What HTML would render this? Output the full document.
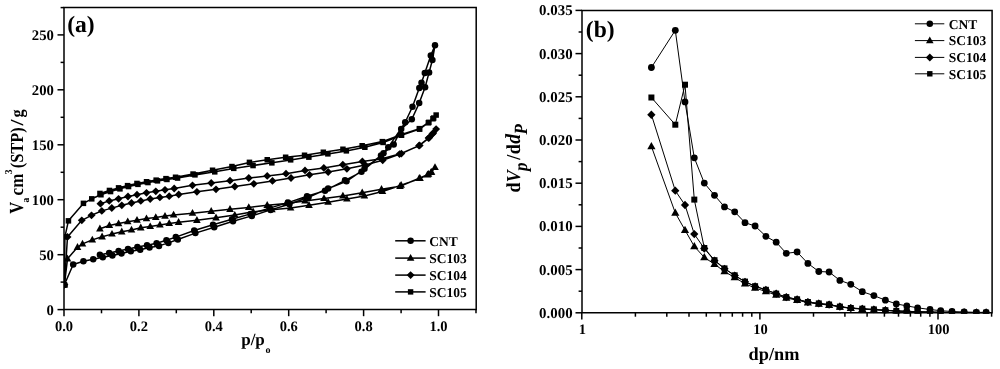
<!DOCTYPE html>
<html><head><meta charset="utf-8"><title>chart</title>
<style>
html,body{margin:0;padding:0;background:#fff;}
svg text, .t{font-family:"Liberation Serif",serif;font-weight:bold;fill:#000;text-rendering:geometricPrecision;}
body{width:1000px;height:369px;overflow:hidden;position:relative;font-family:"Liberation Serif",serif;}
</style></head><body>
<svg width="1000" height="369" viewBox="0 0 1000 369" style="position:absolute;left:0;top:0;will-change:transform">
<rect width="1000" height="369" fill="#fff"/>
<defs><clipPath id="ca"><rect x="64.0" y="7.6" width="412.2" height="302.0"/></clipPath>
<clipPath id="cb"><rect x="582.0" y="10.4" width="410.1" height="303.0"/></clipPath></defs>
<g clip-path="url(#ca)"><g transform="translate(0,0.3)">
<polyline fill="none" stroke="#000" stroke-width="1.5" stroke-linejoin="round" points="64.4,284.5 73.2,264.2 83.4,261.0 93.2,259.0 102.8,256.9 112.4,255.2 121.5,253.1 130.8,251.0 140.2,249.4 149.5,247.2 159.0,245.6 168.4,242.6 177.8,239.2 195.4,232.8 214.2,227.0 233.0,221.0 251.8,215.6 270.6,209.6 289.4,204.0 308.5,197.0 328.1,188.2 346.5,181.0 364.5,168.5 383.5,153.0 393.7,144.1 401.2,128.8 411.8,119.0 419.2,102.8 425.1,87.0 429.1,72.1 432.4,59.7 435.0,45.0 430.8,55.3 424.8,72.7 421.5,82.5 419.3,87.8 412.5,106.5 405.2,122.0 388.3,147.0 381.0,155.2 361.5,171.5 345.0,180.0 325.0,190.4 307.0,196.0 288.0,202.3 269.5,207.8 250.5,213.6 232.0,219.0 213.0,224.4 194.2,230.2 175.8,236.8 166.4,240.0 156.6,243.0 147.0,245.0 137.4,246.6 128.0,248.8 118.6,250.6 109.2,252.8 99.9,254.4"/><g fill="#000"><circle cx="64.4" cy="284.5" r="3.25"/><circle cx="73.2" cy="264.2" r="3.25"/><circle cx="83.4" cy="261.0" r="3.25"/><circle cx="93.2" cy="259.0" r="3.25"/><circle cx="102.8" cy="256.9" r="3.25"/><circle cx="112.4" cy="255.2" r="3.25"/><circle cx="121.5" cy="253.1" r="3.25"/><circle cx="130.8" cy="251.0" r="3.25"/><circle cx="140.2" cy="249.4" r="3.25"/><circle cx="149.5" cy="247.2" r="3.25"/><circle cx="159.0" cy="245.6" r="3.25"/><circle cx="168.4" cy="242.6" r="3.25"/><circle cx="177.8" cy="239.2" r="3.25"/><circle cx="195.4" cy="232.8" r="3.25"/><circle cx="214.2" cy="227.0" r="3.25"/><circle cx="233.0" cy="221.0" r="3.25"/><circle cx="251.8" cy="215.6" r="3.25"/><circle cx="270.6" cy="209.6" r="3.25"/><circle cx="289.4" cy="204.0" r="3.25"/><circle cx="308.5" cy="197.0" r="3.25"/><circle cx="328.1" cy="188.2" r="3.25"/><circle cx="346.5" cy="181.0" r="3.25"/><circle cx="364.5" cy="168.5" r="3.25"/><circle cx="383.5" cy="153.0" r="3.25"/><circle cx="393.7" cy="144.1" r="3.25"/><circle cx="401.2" cy="128.8" r="3.25"/><circle cx="411.8" cy="119.0" r="3.25"/><circle cx="419.2" cy="102.8" r="3.25"/><circle cx="425.1" cy="87.0" r="3.25"/><circle cx="429.1" cy="72.1" r="3.25"/><circle cx="432.4" cy="59.7" r="3.25"/><circle cx="435.0" cy="45.0" r="3.25"/><circle cx="430.8" cy="55.3" r="3.25"/><circle cx="424.8" cy="72.7" r="3.25"/><circle cx="421.5" cy="82.5" r="3.25"/><circle cx="419.3" cy="87.8" r="3.25"/><circle cx="412.5" cy="106.5" r="3.25"/><circle cx="405.2" cy="122.0" r="3.25"/><circle cx="388.3" cy="147.0" r="3.25"/><circle cx="381.0" cy="155.2" r="3.25"/><circle cx="361.5" cy="171.5" r="3.25"/><circle cx="345.0" cy="180.0" r="3.25"/><circle cx="325.0" cy="190.4" r="3.25"/><circle cx="307.0" cy="196.0" r="3.25"/><circle cx="288.0" cy="202.3" r="3.25"/><circle cx="269.5" cy="207.8" r="3.25"/><circle cx="250.5" cy="213.6" r="3.25"/><circle cx="232.0" cy="219.0" r="3.25"/><circle cx="213.0" cy="224.4" r="3.25"/><circle cx="194.2" cy="230.2" r="3.25"/><circle cx="175.8" cy="236.8" r="3.25"/><circle cx="166.4" cy="240.0" r="3.25"/><circle cx="156.6" cy="243.0" r="3.25"/><circle cx="147.0" cy="245.0" r="3.25"/><circle cx="137.4" cy="246.6" r="3.25"/><circle cx="128.0" cy="248.8" r="3.25"/><circle cx="118.6" cy="250.6" r="3.25"/><circle cx="109.2" cy="252.8" r="3.25"/><circle cx="99.9" cy="254.4" r="3.25"/></g>
<polyline fill="none" stroke="#000" stroke-width="1.5" stroke-linejoin="round" points="64.4,284.5 67.5,258.5 77.5,247.0 82.5,243.6 92.3,239.6 102.1,236.5 112.0,233.8 121.8,231.5 131.5,229.6 140.8,227.5 150.2,226.2 159.9,224.6 169.2,223.1 178.6,222.0 196.9,220.0 216.0,217.5 234.8,214.8 253.1,211.5 271.9,209.4 290.6,207.8 309.0,205.0 328.1,201.9 346.9,198.8 364.4,195.6 382.5,191.2 401.1,184.9 420.0,178.2 428.5,173.9 431.5,171.8 435.0,167.2 431.0,172.1 427.5,174.5 419.3,178.0 400.0,186.0 381.5,189.0 362.2,192.5 342.9,195.6 324.0,198.1 305.0,200.6 286.2,203.1 267.2,205.0 248.8,207.1 230.0,209.0 211.2,211.0 192.5,212.9 173.6,214.6 165.0,215.8 155.8,217.1 146.5,218.3 137.0,219.9 127.7,221.4 118.6,223.3 109.4,225.2 99.9,228.5"/><g fill="#000"><path d="M64.4 280.3L68.2 287.1L60.6 287.1Z"/><path d="M67.5 254.3L71.3 261.1L63.7 261.1Z"/><path d="M77.5 242.8L81.3 249.6L73.7 249.6Z"/><path d="M82.5 239.4L86.3 246.2L78.7 246.2Z"/><path d="M92.3 235.4L96.1 242.2L88.5 242.2Z"/><path d="M102.1 232.3L105.9 239.1L98.3 239.1Z"/><path d="M112.0 229.6L115.8 236.3L108.2 236.3Z"/><path d="M121.8 227.3L125.5 234.1L118.0 234.1Z"/><path d="M131.5 225.4L135.3 232.2L127.7 232.2Z"/><path d="M140.8 223.3L144.6 230.1L136.9 230.1Z"/><path d="M150.2 222.1L154.1 228.8L146.4 228.8Z"/><path d="M159.9 220.4L163.7 227.2L156.1 227.2Z"/><path d="M169.2 218.9L173.1 225.7L165.4 225.7Z"/><path d="M178.6 217.8L182.4 224.6L174.8 224.6Z"/><path d="M196.9 215.8L200.7 222.6L193.1 222.6Z"/><path d="M216.0 213.3L219.8 220.1L212.2 220.1Z"/><path d="M234.8 210.6L238.6 217.3L230.9 217.3Z"/><path d="M253.1 207.3L256.9 214.1L249.3 214.1Z"/><path d="M271.9 205.2L275.7 212.0L268.1 212.0Z"/><path d="M290.6 203.6L294.4 210.3L286.8 210.3Z"/><path d="M309.0 200.8L312.8 207.6L305.2 207.6Z"/><path d="M328.1 197.7L331.9 204.5L324.3 204.5Z"/><path d="M346.9 194.6L350.7 201.3L343.1 201.3Z"/><path d="M364.4 191.4L368.2 198.2L360.6 198.2Z"/><path d="M382.5 187.1L386.3 193.8L378.7 193.8Z"/><path d="M401.1 180.7L404.9 187.5L397.3 187.5Z"/><path d="M420.0 174.0L423.8 180.8L416.2 180.8Z"/><path d="M428.5 169.7L432.3 176.5L424.7 176.5Z"/><path d="M431.5 167.6L435.3 174.4L427.7 174.4Z"/><path d="M435.0 163.0L438.8 169.8L431.2 169.8Z"/><path d="M431.0 167.9L434.8 174.7L427.2 174.7Z"/><path d="M427.5 170.3L431.3 177.1L423.7 177.1Z"/><path d="M419.3 173.8L423.1 180.6L415.5 180.6Z"/><path d="M400.0 181.8L403.8 188.6L396.2 188.6Z"/><path d="M381.5 184.8L385.3 191.6L377.7 191.6Z"/><path d="M362.2 188.3L366.1 195.1L358.4 195.1Z"/><path d="M342.9 191.4L346.7 198.2L339.1 198.2Z"/><path d="M324.0 193.9L327.8 200.7L320.2 200.7Z"/><path d="M305.0 196.4L308.8 203.2L301.2 203.2Z"/><path d="M286.2 198.9L290.1 205.7L282.4 205.7Z"/><path d="M267.2 200.8L271.1 207.6L263.4 207.6Z"/><path d="M248.8 202.9L252.6 209.7L244.9 209.7Z"/><path d="M230.0 204.8L233.8 211.6L226.2 211.6Z"/><path d="M211.2 206.8L215.1 213.6L207.4 213.6Z"/><path d="M192.5 208.7L196.3 215.5L188.7 215.5Z"/><path d="M173.6 210.4L177.4 217.2L169.8 217.2Z"/><path d="M165.0 211.6L168.8 218.4L161.2 218.4Z"/><path d="M155.8 212.9L159.6 219.7L151.9 219.7Z"/><path d="M146.5 214.1L150.3 220.9L142.7 220.9Z"/><path d="M137.0 215.7L140.8 222.5L133.2 222.5Z"/><path d="M127.7 217.2L131.5 224.0L123.9 224.0Z"/><path d="M118.6 219.1L122.4 225.9L114.8 225.9Z"/><path d="M109.4 221.0L113.2 227.8L105.6 227.8Z"/><path d="M99.9 224.3L103.7 231.1L96.1 231.1Z"/></g>
<polyline fill="none" stroke="#000" stroke-width="1.5" stroke-linejoin="round" points="64.4,284.5 67.5,236.6 81.8,220.0 91.5,215.0 101.8,210.6 111.8,207.8 121.8,205.0 131.5,202.8 140.8,200.6 150.2,198.8 159.9,197.1 169.2,195.9 178.7,194.2 196.9,191.5 216.0,189.0 234.8,186.2 253.8,183.5 272.5,180.6 291.0,177.7 309.5,174.5 328.2,171.7 346.9,168.5 365.1,164.7 382.7,160.0 401.4,153.3 419.6,145.1 429.4,137.3 433.3,132.8 436.1,128.8 432.4,133.6 428.5,137.8 419.0,145.4 399.5,153.8 381.9,158.4 362.4,161.1 342.8,164.4 323.8,167.6 305.0,170.1 286.0,173.4 267.2,175.6 248.8,177.8 230.0,180.4 211.2,182.8 192.5,185.0 174.2,188.2 165.0,189.5 155.8,191.0 146.5,192.5 137.0,194.4 128.0,196.2 118.6,198.5 109.2,200.6 100.5,203.4"/><g fill="#000"><path d="M64.4 280.6L68.4 284.5L64.4 288.4L60.5 284.5Z"/><path d="M67.5 232.7L71.5 236.6L67.5 240.5L63.5 236.6Z"/><path d="M81.8 216.1L85.7 220.0L81.8 223.9L77.8 220.0Z"/><path d="M91.5 211.1L95.5 215.0L91.5 218.9L87.5 215.0Z"/><path d="M101.8 206.7L105.7 210.6L101.8 214.5L97.8 210.6Z"/><path d="M111.8 203.8L115.7 207.8L111.8 211.7L107.8 207.8Z"/><path d="M121.8 201.1L125.7 205.0L121.8 208.9L117.8 205.0Z"/><path d="M131.5 198.8L135.4 202.8L131.5 206.7L127.5 202.8Z"/><path d="M140.8 196.7L144.7 200.6L140.8 204.5L136.8 200.6Z"/><path d="M150.2 194.8L154.2 198.8L150.2 202.7L146.3 198.8Z"/><path d="M159.9 193.2L163.8 197.1L159.9 201.0L156.0 197.1Z"/><path d="M169.2 192.0L173.2 195.9L169.2 199.8L165.3 195.9Z"/><path d="M178.7 190.2L182.6 194.2L178.7 198.1L174.8 194.2Z"/><path d="M196.9 187.6L200.8 191.5L196.9 195.4L193.0 191.5Z"/><path d="M216.0 185.1L219.9 189.0L216.0 192.9L212.1 189.0Z"/><path d="M234.8 182.3L238.7 186.2L234.8 190.2L230.8 186.2Z"/><path d="M253.8 179.6L257.7 183.5L253.8 187.4L249.8 183.5Z"/><path d="M272.5 176.7L276.4 180.6L272.5 184.5L268.6 180.6Z"/><path d="M291.0 173.8L294.9 177.7L291.0 181.6L287.1 177.7Z"/><path d="M309.5 170.6L313.4 174.5L309.5 178.4L305.6 174.5Z"/><path d="M328.2 167.8L332.1 171.7L328.2 175.6L324.2 171.7Z"/><path d="M346.9 164.6L350.8 168.5L346.9 172.4L342.9 168.5Z"/><path d="M365.1 160.8L369.1 164.7L365.1 168.6L361.2 164.7Z"/><path d="M382.7 156.1L386.6 160.0L382.7 163.9L378.8 160.0Z"/><path d="M401.4 149.4L405.3 153.3L401.4 157.2L397.4 153.3Z"/><path d="M419.6 141.2L423.6 145.1L419.6 149.0L415.7 145.1Z"/><path d="M429.4 133.4L433.3 137.3L429.4 141.2L425.4 137.3Z"/><path d="M433.3 128.9L437.2 132.8L433.3 136.8L429.4 132.8Z"/><path d="M436.1 124.9L440.1 128.8L436.1 132.8L432.2 128.8Z"/><path d="M432.4 129.7L436.3 133.6L432.4 137.5L428.4 133.6Z"/><path d="M428.5 133.9L432.4 137.8L428.5 141.8L424.6 137.8Z"/><path d="M419.0 141.5L422.9 145.4L419.0 149.3L415.1 145.4Z"/><path d="M399.5 149.9L403.4 153.8L399.5 157.8L395.6 153.8Z"/><path d="M381.9 154.5L385.8 158.4L381.9 162.3L377.9 158.4Z"/><path d="M362.4 157.2L366.3 161.1L362.4 165.0L358.4 161.1Z"/><path d="M342.8 160.5L346.8 164.4L342.8 168.3L338.9 164.4Z"/><path d="M323.8 163.7L327.8 167.6L323.8 171.5L319.9 167.6Z"/><path d="M305.0 166.2L308.9 170.1L305.0 174.0L301.1 170.1Z"/><path d="M286.0 169.5L289.9 173.4L286.0 177.3L282.1 173.4Z"/><path d="M267.2 171.7L271.2 175.6L267.2 179.5L263.3 175.6Z"/><path d="M248.8 173.8L252.7 177.8L248.8 181.7L244.8 177.8Z"/><path d="M230.0 176.5L233.9 180.4L230.0 184.3L226.1 180.4Z"/><path d="M211.2 178.8L215.2 182.8L211.2 186.7L207.3 182.8Z"/><path d="M192.5 181.1L196.4 185.0L192.5 188.9L188.6 185.0Z"/><path d="M174.2 184.3L178.2 188.2L174.2 192.2L170.3 188.2Z"/><path d="M165.0 185.6L168.9 189.5L165.0 193.4L161.1 189.5Z"/><path d="M155.8 187.1L159.7 191.0L155.8 194.9L151.8 191.0Z"/><path d="M146.5 188.6L150.4 192.5L146.5 196.4L142.6 192.5Z"/><path d="M137.0 190.5L140.9 194.4L137.0 198.3L133.1 194.4Z"/><path d="M128.0 192.3L131.9 196.2L128.0 200.2L124.0 196.2Z"/><path d="M118.6 194.6L122.5 198.5L118.6 202.4L114.6 198.5Z"/><path d="M109.2 196.7L113.2 200.6L109.2 204.5L105.3 200.6Z"/><path d="M100.5 199.5L104.5 203.4L100.5 207.3L96.5 203.4Z"/></g>
<polyline fill="none" stroke="#000" stroke-width="1.5" stroke-linejoin="round" points="64.4,284.5 64.9,236.5 68.4,220.5 83.4,203.1 91.8,198.5 100.9,194.4 110.5,191.2 119.9,188.5 128.6,186.2 138.0,184.1 148.0,182.2 157.4,180.6 167.0,179.2 177.5,177.8 195.0,174.6 214.8,171.5 233.8,168.1 253.1,165.2 271.9,162.5 290.6,159.6 308.9,156.8 327.9,153.6 346.3,150.6 364.8,146.9 383.2,142.2 401.5,135.0 419.6,128.8 428.8,122.1 433.7,117.8 436.1,114.8 433.0,118.4 428.3,122.4 419.3,128.3 401.0,134.3 382.3,141.3 362.2,145.4 343.0,149.0 323.4,151.9 304.5,155.0 285.6,156.9 267.2,159.4 249.4,162.1 231.9,166.2 212.5,170.0 193.1,173.8 175.6,176.9 166.0,178.3 156.2,179.8 146.6,181.4 137.0,183.2 127.6,185.3 118.6,187.6 109.4,190.2 100.0,193.2"/><g fill="#000"><rect x="61.7" y="281.8" width="5.5" height="5.5"/><rect x="62.2" y="233.8" width="5.5" height="5.5"/><rect x="65.7" y="217.8" width="5.5" height="5.5"/><rect x="80.7" y="200.3" width="5.5" height="5.5"/><rect x="89.0" y="195.8" width="5.5" height="5.5"/><rect x="98.2" y="191.7" width="5.5" height="5.5"/><rect x="107.8" y="188.5" width="5.5" height="5.5"/><rect x="117.2" y="185.8" width="5.5" height="5.5"/><rect x="125.8" y="183.5" width="5.5" height="5.5"/><rect x="135.2" y="181.3" width="5.5" height="5.5"/><rect x="145.2" y="179.5" width="5.5" height="5.5"/><rect x="154.7" y="177.8" width="5.5" height="5.5"/><rect x="164.2" y="176.4" width="5.5" height="5.5"/><rect x="174.8" y="175.0" width="5.5" height="5.5"/><rect x="192.2" y="171.8" width="5.5" height="5.5"/><rect x="212.0" y="168.8" width="5.5" height="5.5"/><rect x="231.0" y="165.3" width="5.5" height="5.5"/><rect x="250.3" y="162.5" width="5.5" height="5.5"/><rect x="269.1" y="159.8" width="5.5" height="5.5"/><rect x="287.9" y="156.8" width="5.5" height="5.5"/><rect x="306.1" y="154.1" width="5.5" height="5.5"/><rect x="325.1" y="150.8" width="5.5" height="5.5"/><rect x="343.6" y="147.8" width="5.5" height="5.5"/><rect x="362.1" y="144.2" width="5.5" height="5.5"/><rect x="380.4" y="139.4" width="5.5" height="5.5"/><rect x="398.8" y="132.2" width="5.5" height="5.5"/><rect x="416.9" y="126.1" width="5.5" height="5.5"/><rect x="426.1" y="119.3" width="5.5" height="5.5"/><rect x="430.9" y="115.0" width="5.5" height="5.5"/><rect x="433.4" y="112.0" width="5.5" height="5.5"/><rect x="430.2" y="115.7" width="5.5" height="5.5"/><rect x="425.6" y="119.7" width="5.5" height="5.5"/><rect x="416.6" y="125.6" width="5.5" height="5.5"/><rect x="398.2" y="131.6" width="5.5" height="5.5"/><rect x="379.6" y="138.6" width="5.5" height="5.5"/><rect x="359.4" y="142.7" width="5.5" height="5.5"/><rect x="340.2" y="146.2" width="5.5" height="5.5"/><rect x="320.6" y="149.2" width="5.5" height="5.5"/><rect x="301.8" y="152.2" width="5.5" height="5.5"/><rect x="282.9" y="154.2" width="5.5" height="5.5"/><rect x="264.5" y="156.7" width="5.5" height="5.5"/><rect x="246.7" y="159.3" width="5.5" height="5.5"/><rect x="229.2" y="163.5" width="5.5" height="5.5"/><rect x="209.8" y="167.2" width="5.5" height="5.5"/><rect x="190.3" y="171.0" width="5.5" height="5.5"/><rect x="172.8" y="174.2" width="5.5" height="5.5"/><rect x="163.2" y="175.6" width="5.5" height="5.5"/><rect x="153.4" y="177.1" width="5.5" height="5.5"/><rect x="143.8" y="178.7" width="5.5" height="5.5"/><rect x="134.2" y="180.4" width="5.5" height="5.5"/><rect x="124.8" y="182.6" width="5.5" height="5.5"/><rect x="115.8" y="184.8" width="5.5" height="5.5"/><rect x="106.7" y="187.4" width="5.5" height="5.5"/><rect x="97.2" y="190.4" width="5.5" height="5.5"/></g>
</g></g>
<g stroke="#000" stroke-width="1.5" fill="none" stroke-linecap="butt">
<path d="M64.0 7.6H476.2V309.6H64.0Z"/>
<path d="M64.0 309.6v6.6"/>
<path d="M101.5 309.6v3.7"/>
<path d="M138.9 309.6v6.6"/>
<path d="M176.3 309.6v3.7"/>
<path d="M213.8 309.6v6.6"/>
<path d="M251.2 309.6v3.7"/>
<path d="M288.7 309.6v6.6"/>
<path d="M326.1 309.6v3.7"/>
<path d="M363.6 309.6v6.6"/>
<path d="M401.1 309.6v3.7"/>
<path d="M438.5 309.6v6.6"/>
<path d="M476.0 309.6v3.7"/>
<path d="M64.0 309.6h-6.5"/>
<path d="M64.0 282.1h-3.4"/>
<path d="M64.0 254.7h-6.5"/>
<path d="M64.0 227.2h-3.4"/>
<path d="M64.0 199.7h-6.5"/>
<path d="M64.0 172.3h-3.4"/>
<path d="M64.0 144.8h-6.5"/>
<path d="M64.0 117.3h-3.4"/>
<path d="M64.0 89.8h-6.5"/>
<path d="M64.0 62.4h-3.4"/>
<path d="M64.0 34.9h-6.5"/>
<path d="M64.0 7.6h-3.4"/>
</g>
<g clip-path="url(#cb)">
<polyline fill="none" stroke="#000" stroke-width="1.0" stroke-linejoin="round" points="651.4,67.5 675.3,30.3 685.0,101.9 694.3,157.8 704.3,183.1 714.5,195.3 724.5,206.9 734.7,211.8 745.0,222.7 755.1,226.0 765.9,236.3 776.2,242.2 786.3,253.3 797.1,252.0 807.9,263.4 818.8,271.5 829.1,272.0 839.9,280.4 850.8,284.3 862.3,291.7 873.9,295.6 885.4,300.2 896.3,303.9 906.8,305.9 917.6,307.8 930.0,309.5 940.7,310.7 952.0,311.5 964.1,312.0 976.3,312.3 986.1,312.4"/><g fill="#000"><circle cx="651.4" cy="67.5" r="3.40"/><circle cx="675.3" cy="30.3" r="3.40"/><circle cx="685.0" cy="101.9" r="3.40"/><circle cx="694.3" cy="157.8" r="3.40"/><circle cx="704.3" cy="183.1" r="3.40"/><circle cx="714.5" cy="195.3" r="3.40"/><circle cx="724.5" cy="206.9" r="3.40"/><circle cx="734.7" cy="211.8" r="3.40"/><circle cx="745.0" cy="222.7" r="3.40"/><circle cx="755.1" cy="226.0" r="3.40"/><circle cx="765.9" cy="236.3" r="3.40"/><circle cx="776.2" cy="242.2" r="3.40"/><circle cx="786.3" cy="253.3" r="3.40"/><circle cx="797.1" cy="252.0" r="3.40"/><circle cx="807.9" cy="263.4" r="3.40"/><circle cx="818.8" cy="271.5" r="3.40"/><circle cx="829.1" cy="272.0" r="3.40"/><circle cx="839.9" cy="280.4" r="3.40"/><circle cx="850.8" cy="284.3" r="3.40"/><circle cx="862.3" cy="291.7" r="3.40"/><circle cx="873.9" cy="295.6" r="3.40"/><circle cx="885.4" cy="300.2" r="3.40"/><circle cx="896.3" cy="303.9" r="3.40"/><circle cx="906.8" cy="305.9" r="3.40"/><circle cx="917.6" cy="307.8" r="3.40"/><circle cx="930.0" cy="309.5" r="3.40"/><circle cx="940.7" cy="310.7" r="3.40"/><circle cx="952.0" cy="311.5" r="3.40"/><circle cx="964.1" cy="312.0" r="3.40"/><circle cx="976.3" cy="312.3" r="3.40"/><circle cx="986.1" cy="312.4" r="3.40"/></g>
<polyline fill="none" stroke="#000" stroke-width="1.0" stroke-linejoin="round" points="651.4,146.4 675.3,212.9 685.0,230.1 694.3,246.4 704.3,257.4 714.5,264.2 724.5,271.5 734.7,277.5 745.0,283.7 755.1,288.0 765.9,291.5 776.2,295.0 786.3,298.0 797.1,300.2 807.9,302.6 818.8,304.0 829.1,305.1 839.9,307.0 850.8,308.3 862.3,309.2 873.9,309.8 885.4,310.5 896.3,311.1 906.8,311.5 917.6,311.9 930.0,312.2 940.7,312.4 952.0,312.5 964.1,312.6 976.3,312.7 986.1,312.7"/><g fill="#000"><path d="M651.4 142.0L655.5 149.2L647.3 149.2Z"/><path d="M675.3 208.5L679.4 215.7L671.2 215.7Z"/><path d="M685.0 225.7L689.1 232.9L680.9 232.9Z"/><path d="M694.3 242.0L698.4 249.2L690.2 249.2Z"/><path d="M704.3 253.0L708.4 260.2L700.2 260.2Z"/><path d="M714.5 259.8L718.6 267.0L710.4 267.0Z"/><path d="M724.5 267.1L728.6 274.3L720.4 274.3Z"/><path d="M734.7 273.1L738.8 280.3L730.6 280.3Z"/><path d="M745.0 279.3L749.1 286.5L740.9 286.5Z"/><path d="M755.1 283.6L759.2 290.8L751.0 290.8Z"/><path d="M765.9 287.1L770.0 294.3L761.8 294.3Z"/><path d="M776.2 290.6L780.3 297.8L772.1 297.8Z"/><path d="M786.3 293.6L790.4 300.8L782.2 300.8Z"/><path d="M797.1 295.8L801.2 303.0L793.0 303.0Z"/><path d="M807.9 298.2L812.0 305.4L803.8 305.4Z"/><path d="M818.8 299.6L822.9 306.8L814.7 306.8Z"/><path d="M829.1 300.7L833.2 307.9L825.0 307.9Z"/><path d="M839.9 302.6L844.0 309.8L835.8 309.8Z"/><path d="M850.8 303.9L854.9 311.1L846.7 311.1Z"/><path d="M862.3 304.8L866.4 312.0L858.2 312.0Z"/><path d="M873.9 305.4L878.0 312.6L869.8 312.6Z"/><path d="M885.4 306.1L889.5 313.3L881.3 313.3Z"/><path d="M896.3 306.7L900.4 313.9L892.2 313.9Z"/><path d="M906.8 307.1L910.9 314.3L902.7 314.3Z"/><path d="M917.6 307.5L921.7 314.7L913.5 314.7Z"/><path d="M930.0 307.8L934.1 315.0L925.9 315.0Z"/><path d="M940.7 308.0L944.8 315.2L936.6 315.2Z"/><path d="M952.0 308.1L956.1 315.3L947.9 315.3Z"/><path d="M964.1 308.2L968.2 315.4L960.0 315.4Z"/><path d="M976.3 308.3L980.4 315.5L972.2 315.5Z"/><path d="M986.1 308.3L990.2 315.5L982.0 315.5Z"/></g>
<polyline fill="none" stroke="#000" stroke-width="1.0" stroke-linejoin="round" points="651.4,114.7 675.3,190.7 685.0,205.0 694.3,234.1 704.3,248.5 714.5,260.7 724.5,268.8 734.7,275.6 745.0,281.8 755.1,286.4 765.9,289.9 776.2,293.7 786.3,297.2 797.1,299.4 807.9,302.1 818.8,303.5 829.1,304.6 839.9,306.7 850.8,308.1 862.3,308.8 873.9,309.5 885.4,310.3 896.3,311.0 906.8,311.3 917.6,311.7 930.0,312.1 940.7,312.3 952.0,312.5 964.1,312.6 976.3,312.7 986.1,312.7"/><g fill="#000"><path d="M651.4 110.5L655.5 114.7L651.4 118.9L647.2 114.7Z"/><path d="M675.3 186.5L679.4 190.7L675.3 194.8L671.1 190.7Z"/><path d="M685.0 200.8L689.1 205.0L685.0 209.2L680.9 205.0Z"/><path d="M694.3 229.9L698.4 234.1L694.3 238.2L690.1 234.1Z"/><path d="M704.3 244.3L708.4 248.5L704.3 252.7L700.1 248.5Z"/><path d="M714.5 256.6L718.6 260.7L714.5 264.8L710.4 260.7Z"/><path d="M724.5 264.7L728.6 268.8L724.5 272.9L720.4 268.8Z"/><path d="M734.7 271.5L738.9 275.6L734.7 279.8L730.6 275.6Z"/><path d="M745.0 277.7L749.1 281.8L745.0 285.9L740.9 281.8Z"/><path d="M755.1 282.2L759.2 286.4L755.1 290.5L751.0 286.4Z"/><path d="M765.9 285.8L770.0 289.9L765.9 294.0L761.8 289.9Z"/><path d="M776.2 289.6L780.4 293.7L776.2 297.8L772.1 293.7Z"/><path d="M786.3 293.1L790.4 297.2L786.3 301.3L782.1 297.2Z"/><path d="M797.1 295.2L801.2 299.4L797.1 303.5L793.0 299.4Z"/><path d="M807.9 298.0L812.0 302.1L807.9 306.2L803.8 302.1Z"/><path d="M818.8 299.4L822.9 303.5L818.8 307.6L814.6 303.5Z"/><path d="M829.1 300.5L833.2 304.6L829.1 308.8L825.0 304.6Z"/><path d="M839.9 302.6L844.0 306.7L839.9 310.8L835.8 306.7Z"/><path d="M850.8 304.0L854.9 308.1L850.8 312.2L846.6 308.1Z"/><path d="M862.3 304.7L866.4 308.8L862.3 312.9L858.1 308.8Z"/><path d="M873.9 305.4L878.0 309.5L873.9 313.6L869.8 309.5Z"/><path d="M885.4 306.2L889.5 310.3L885.4 314.4L881.2 310.3Z"/><path d="M896.3 306.9L900.4 311.0L896.3 315.1L892.1 311.0Z"/><path d="M906.8 307.2L910.9 311.3L906.8 315.4L902.6 311.3Z"/><path d="M917.6 307.6L921.8 311.7L917.6 315.8L913.5 311.7Z"/><path d="M930.0 308.0L934.1 312.1L930.0 316.2L925.9 312.1Z"/><path d="M940.7 308.2L944.9 312.3L940.7 316.4L936.6 312.3Z"/><path d="M952.0 308.4L956.1 312.5L952.0 316.6L947.9 312.5Z"/><path d="M964.1 308.5L968.2 312.6L964.1 316.8L960.0 312.6Z"/><path d="M976.3 308.6L980.4 312.7L976.3 316.8L972.1 312.7Z"/><path d="M986.1 308.6L990.2 312.7L986.1 316.8L982.0 312.7Z"/></g>
<polyline fill="none" stroke="#000" stroke-width="1.0" stroke-linejoin="round" points="651.4,97.5 675.3,124.7 685.0,84.7 694.3,199.6 704.3,248.0 714.5,260.2 724.5,268.4 734.7,275.3 745.0,281.6 755.1,286.2 765.9,289.8 776.2,293.6 786.3,297.1 797.1,299.3 807.9,302.0 818.8,303.4 829.1,304.5 839.9,306.6 850.8,308.0 862.3,308.7 873.9,309.4 885.4,310.2 896.3,310.9 906.8,311.3 917.6,311.7 930.0,312.1 940.7,312.3 952.0,312.5 964.1,312.6 976.3,312.7 986.1,312.7"/><g fill="#000"><rect x="648.4" y="94.5" width="6.0" height="6.0"/><rect x="672.3" y="121.7" width="6.0" height="6.0"/><rect x="682.0" y="81.7" width="6.0" height="6.0"/><rect x="691.3" y="196.6" width="6.0" height="6.0"/><rect x="701.3" y="245.0" width="6.0" height="6.0"/><rect x="711.5" y="257.2" width="6.0" height="6.0"/><rect x="721.5" y="265.4" width="6.0" height="6.0"/><rect x="731.7" y="272.3" width="6.0" height="6.0"/><rect x="742.0" y="278.6" width="6.0" height="6.0"/><rect x="752.1" y="283.2" width="6.0" height="6.0"/><rect x="762.9" y="286.8" width="6.0" height="6.0"/><rect x="773.2" y="290.6" width="6.0" height="6.0"/><rect x="783.3" y="294.1" width="6.0" height="6.0"/><rect x="794.1" y="296.3" width="6.0" height="6.0"/><rect x="804.9" y="299.0" width="6.0" height="6.0"/><rect x="815.8" y="300.4" width="6.0" height="6.0"/><rect x="826.1" y="301.5" width="6.0" height="6.0"/><rect x="836.9" y="303.6" width="6.0" height="6.0"/><rect x="847.8" y="305.0" width="6.0" height="6.0"/><rect x="859.3" y="305.7" width="6.0" height="6.0"/><rect x="870.9" y="306.4" width="6.0" height="6.0"/><rect x="882.4" y="307.2" width="6.0" height="6.0"/><rect x="893.3" y="307.9" width="6.0" height="6.0"/><rect x="903.8" y="308.3" width="6.0" height="6.0"/><rect x="914.6" y="308.7" width="6.0" height="6.0"/><rect x="927.0" y="309.1" width="6.0" height="6.0"/><rect x="937.7" y="309.3" width="6.0" height="6.0"/><rect x="949.0" y="309.5" width="6.0" height="6.0"/><rect x="961.1" y="309.6" width="6.0" height="6.0"/><rect x="973.3" y="309.7" width="6.0" height="6.0"/><rect x="983.1" y="309.7" width="6.0" height="6.0"/></g>
</g>
<g stroke="#000" stroke-width="1.5" fill="none">
<path d="M582.0 10.4H992.1V312.8H582.0Z"/>
<path d="M581.8 312.8v6.6"/>
<path d="M635.4 312.8v3.9"/>
<path d="M666.8 312.8v3.9"/>
<path d="M689.0 312.8v3.9"/>
<path d="M706.3 312.8v3.9"/>
<path d="M720.4 312.8v3.9"/>
<path d="M732.3 312.8v3.9"/>
<path d="M742.6 312.8v3.9"/>
<path d="M751.8 312.8v3.9"/>
<path d="M759.9 312.8v6.6"/>
<path d="M813.5 312.8v3.9"/>
<path d="M844.9 312.8v3.9"/>
<path d="M867.1 312.8v3.9"/>
<path d="M884.4 312.8v3.9"/>
<path d="M898.5 312.8v3.9"/>
<path d="M910.4 312.8v3.9"/>
<path d="M920.7 312.8v3.9"/>
<path d="M929.9 312.8v3.9"/>
<path d="M938.0 312.8v6.6"/>
<path d="M991.6 312.8v3.9"/>
<path d="M582.0 312.8h-6.5"/>
<path d="M582.0 291.2h-3.4"/>
<path d="M582.0 269.6h-6.5"/>
<path d="M582.0 248.0h-3.4"/>
<path d="M582.0 226.4h-6.5"/>
<path d="M582.0 204.8h-3.4"/>
<path d="M582.0 183.2h-6.5"/>
<path d="M582.0 161.6h-3.4"/>
<path d="M582.0 140.0h-6.5"/>
<path d="M582.0 118.4h-3.4"/>
<path d="M582.0 96.8h-6.5"/>
<path d="M582.0 75.2h-3.4"/>
<path d="M582.0 53.6h-6.5"/>
<path d="M582.0 32.0h-3.4"/>
<path d="M582.0 10.4h-6.5"/>
</g>
<g class="t" style="opacity:0.999">
<path d="M395.2 240.8H425.6" stroke="#000" stroke-width="1.5"/><g fill="#000"><circle cx="410.6" cy="240.8" r="3.25"/></g><text x="429.3" y="245.5" font-size="13.5">CNT</text><path d="M395.2 258.1H425.6" stroke="#000" stroke-width="1.5"/><g fill="#000"><path d="M410.6 253.9L414.4 260.7L406.8 260.7Z"/></g><text x="429.3" y="262.8" font-size="13.5">SC103</text><path d="M395.2 275.1H425.6" stroke="#000" stroke-width="1.5"/><g fill="#000"><path d="M410.6 271.2L414.6 275.1L410.6 279.1L406.7 275.1Z"/></g><text x="429.3" y="279.8" font-size="13.5">SC104</text><path d="M395.2 291.9H425.6" stroke="#000" stroke-width="1.5"/><g fill="#000"><rect x="407.9" y="289.2" width="5.4" height="5.4"/></g><text x="429.3" y="296.6" font-size="13.5">SC105</text>
<path d="M914.9 23.8H944.3" stroke="#000" stroke-width="1.0"/><g fill="#000"><circle cx="929.8" cy="23.8" r="3.25"/></g><text x="948.8" y="28.5" font-size="13.5">CNT</text><path d="M914.9 40.6H944.3" stroke="#000" stroke-width="1.0"/><g fill="#000"><path d="M929.8 36.4L933.6 43.2L926.0 43.2Z"/></g><text x="948.8" y="45.3" font-size="13.5">SC103</text><path d="M914.9 57.4H944.3" stroke="#000" stroke-width="1.0"/><g fill="#000"><path d="M929.8 53.4L933.8 57.4L929.8 61.4L925.8 57.4Z"/></g><text x="948.8" y="62.1" font-size="13.5">SC104</text><path d="M914.9 73.8H944.3" stroke="#000" stroke-width="1.0"/><g fill="#000"><rect x="927.1" y="71.1" width="5.4" height="5.4"/></g><text x="948.8" y="78.5" font-size="13.5">SC105</text>
<text x="64.0" y="330.8" font-size="14.5" text-anchor="middle">0.0</text>
<text x="138.9" y="330.8" font-size="14.5" text-anchor="middle">0.2</text>
<text x="213.8" y="330.8" font-size="14.5" text-anchor="middle">0.4</text>
<text x="288.7" y="330.8" font-size="14.5" text-anchor="middle">0.6</text>
<text x="363.6" y="330.8" font-size="14.5" text-anchor="middle">0.8</text>
<text x="438.5" y="330.8" font-size="14.5" text-anchor="middle">1.0</text>
<text x="53.9" y="314.5" font-size="14.7" text-anchor="end">0</text>
<text x="53.9" y="259.6" font-size="14.7" text-anchor="end">50</text>
<text x="53.9" y="204.6" font-size="14.7" text-anchor="end">100</text>
<text x="53.9" y="149.7" font-size="14.7" text-anchor="end">150</text>
<text x="53.9" y="94.7" font-size="14.7" text-anchor="end">200</text>
<text x="53.9" y="39.8" font-size="14.7" text-anchor="end">250</text>
<text x="582.4" y="334.4" font-size="14.5" text-anchor="middle">1</text>
<text x="760.5" y="334.4" font-size="14.5" text-anchor="middle">10</text>
<text x="938.6" y="334.4" font-size="14.5" text-anchor="middle">100</text>
<text x="572.6" y="317.8" font-size="14.9" text-anchor="end">0.000</text>
<text x="572.6" y="274.5" font-size="14.9" text-anchor="end">0.005</text>
<text x="572.6" y="231.3" font-size="14.9" text-anchor="end">0.010</text>
<text x="572.6" y="188.1" font-size="14.9" text-anchor="end">0.015</text>
<text x="572.6" y="144.9" font-size="14.9" text-anchor="end">0.020</text>
<text x="572.6" y="101.7" font-size="14.9" text-anchor="end">0.025</text>
<text x="572.6" y="58.5" font-size="14.9" text-anchor="end">0.030</text>
<text x="572.6" y="15.3" font-size="14.9" text-anchor="end">0.035</text>
<text x="67.2" y="32.3" font-size="23.6">(a)</text>
<text x="585.8" y="36.6" font-size="23.6">(b)</text>
<text x="241.2" y="345.4" font-size="17">p/p<tspan font-size="10" dx="0.6" dy="7.8">o</tspan></text>
<text x="774" y="359.8" font-size="18.3" text-anchor="middle">dp/nm</text>
<g transform="translate(22.8,213.8) rotate(-90) scale(1,1.12)"><text x="0" y="0" font-size="16.4" transform="scale(1,1.09)">V</text><text x="11.4" y="5.5" font-size="9.5">a</text><text x="18.4" y="0" font-size="17">cm</text><text x="39.6" y="-9.5" font-size="9.5">3</text><text x="45.6" y="0" font-size="16.4">(STP)</text><text x="0" y="0" font-size="16.4" transform="translate(88.2,0) scale(1.3,1)">/</text><text x="96.2" y="0" font-size="16.4">g</text></g>
<g transform="translate(520.1,192.6) rotate(-90) scale(1,1.1)"><text x="0" y="0" font-size="18">d</text><text x="10.4" y="0" font-size="18" font-style="italic">V</text><text x="21.5" y="6.3" font-size="17" font-style="italic">p</text><text x="32.8" y="0" font-size="18">/</text><text x="38.3" y="0" font-size="18">d</text><text x="48.8" y="0" font-size="19.5" font-style="italic">d</text><text x="58" y="6.6" font-size="17" font-style="italic">P</text></g>
</g>
</svg>
</body></html>
